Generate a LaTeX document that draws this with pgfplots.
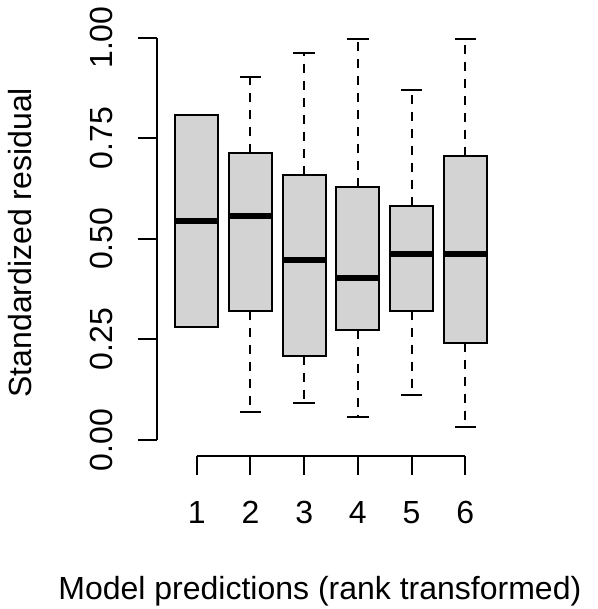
\documentclass[border=0pt]{standalone}
\usepackage{pgfplots}
\pgfplotsset{compat=1.18}
\usepgfplotslibrary{statistics}
\usepackage{fontspec}
\setmainfont{Liberation Sans}
\definecolor{boxfill}{RGB}{211,211,211}

\pgfplotsset{
  boxplot/draw direction=y,
  boxplot/every whisker/.style={dash pattern=on 9pt off 8pt},
  boxplot/every median/.style={line width=6pt},
  rbox/.style={draw=black, fill=boxfill, line width=2pt, solid},
}

\begin{document}
\begin{tikzpicture}
\useasboundingbox (-157pt,-153pt) rectangle (440pt,456pt);
\begin{axis}[
  at={(0pt,0pt)}, anchor=south west,
  scale only axis, width=348pt, height=434.5pt,
  xmin=0.26, xmax=6.74, ymin=-0.04, ymax=1.04,
  axis lines*=left, axis line style={draw=none,-},
  tick align=outside, major tick length=19pt,
  tick style={line width=2pt, black},
  xtick={1,2,3,4,5,6}, xticklabels={1,2,3,4,5,6},
  ytick={0,0.25,0.5,0.75,1},
  yticklabels={0.00,0.25,0.50,0.75,1.00},
  /pgf/number format/assume math mode=true,
  tick label style={font=\fontsize{32}{38}\selectfont},
  xticklabel style={anchor=base, yshift=-48pt},
  yticklabel style={xshift=-25pt, rotate=90, anchor=base},
  label style={font=\fontsize{32}{38}\selectfont},
  xlabel={Model predictions (rank transformed)},
  xlabel style={at={(axis description cs:0.468,-0.3314)}, anchor=base},
  ylabel={Standardized residual},
  ylabel style={at={(axis description cs:-0.3592,0.491)}, anchor=base},
  clip=false,
]
% axis lines spanning the tick range only
\draw[line width=2pt] (axis cs:1,-0.04) -- (axis cs:6,-0.04);
\draw[line width=2pt] (axis cs:0.26,0) -- (axis cs:0.26,1);

\addplot[rbox, boxplot prepared={draw position=1,
  lower whisker=0.2816, lower quartile=0.2816, median=0.545,
  upper quartile=0.808, upper whisker=0.808,
  box extend=0.8, whisker extend=0}] coordinates {};
\addplot[rbox, boxplot prepared={draw position=2,
  lower whisker=0.0696, lower quartile=0.3206, median=0.556,
  upper quartile=0.7125, upper whisker=0.901,
  box extend=0.8, whisker extend=0}] coordinates {};
\addplot[rbox, boxplot prepared={draw position=3,
  lower whisker=0.0928, lower quartile=0.2087, median=0.448,
  upper quartile=0.6585, upper whisker=0.9625,
  box extend=0.8, whisker extend=0}] coordinates {};
\addplot[rbox, boxplot prepared={draw position=4,
  lower whisker=0.058, lower quartile=0.2734, median=0.4026,
  upper quartile=0.628, upper whisker=0.997,
  box extend=0.8, whisker extend=0}] coordinates {};
\addplot[rbox, boxplot prepared={draw position=5,
  lower whisker=0.1126, lower quartile=0.3213, median=0.4614,
  upper quartile=0.5815, upper whisker=0.869,
  box extend=0.8, whisker extend=0}] coordinates {};
\addplot[rbox, boxplot prepared={draw position=6,
  lower whisker=0.033, lower quartile=0.2419, median=0.4614,
  upper quartile=0.7065, upper whisker=0.9958,
  box extend=0.8, whisker extend=0}] coordinates {};

% whisker staples (solid), same values as the whisker ends
\addplot[only marks, mark=-, mark size=10.75pt, line width=2pt, black,
  mark options={solid}] coordinates {
  (1,0.2816) (1,0.808)
  (2,0.0696) (2,0.901)
  (3,0.0928) (3,0.9625)
  (4,0.058)  (4,0.997)
  (5,0.1126) (5,0.869)
  (6,0.033)  (6,0.9958)
};
\end{axis}
\end{tikzpicture}
\end{document}
